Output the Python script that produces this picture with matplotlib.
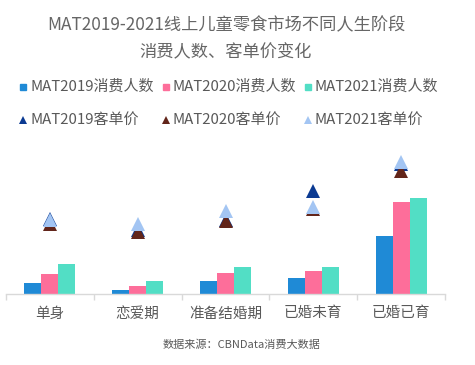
import matplotlib
matplotlib.use("Agg")
import matplotlib.pyplot as plt
from matplotlib.lines import Line2D
import numpy as np

plt.rcParams['font.family'] = ['Noto Sans CJK SC', 'DejaVu Sans']

categories = ['单身', '恋爱期', '准备结婚期', '已婚未育', '已婚已育']
users_2019 = [11, 3.7, 12.7, 15.7, 57.7]
users_2020 = [20, 7.7, 20.7, 23.3, 91.7]
users_2021 = [30, 13, 27, 27, 96.3]
price_2019 = [75, 64, 74, 103.5, 130]
price_2020 = [70, 62, 73, 85.5, 123]
price_2021 = [74, 70.5, 83, 87.5, 132.5]

bar_labels = ['MAT2019消费人数', 'MAT2020消费人数', 'MAT2021消费人数']
tri_labels = ['MAT2019客单价', 'MAT2020客单价', 'MAT2021客单价']
title = 'MAT2019-2021线上儿童零食市场不同人生阶段\n消费人数、客单价变化'
source = '数据来源：CBNData消费大数据'

bar_colors = ['#1f8ad6', '#fd6e9a', '#52dec5']
tri_colors = ['#0b3a92', '#62251a', '#a3c5f3']
text_color = '#595959'

W, H = 475, 365
fig = plt.figure(figsize=(W / 100, H / 100), dpi=100)
fig.patch.set_facecolor('white')

ax_bottom = 294
ax_top = 145
ax = fig.add_axes([6 / W, (H - ax_bottom) / H, (445 - 6) / W, (ax_bottom - ax_top) / H])

x = np.arange(len(categories))
bw = 0.194
for i, (vals, c) in enumerate(zip([users_2019, users_2020, users_2021], bar_colors)):
    ax.bar(x + (i - 1) * bw, vals, width=bw, color=c, zorder=2)

ax.set_xlim(-0.5, len(categories) - 0.5)
ax.set_ylim(0, ax_bottom - ax_top)

for s in ['top', 'right', 'left']:
    ax.spines[s].set_visible(False)
ax.spines['bottom'].set_color('#d9d9d9')
ax.spines['bottom'].set_linewidth(1.0)
ax.set_yticks([])
ax.set_xticks(x)
ax.set_xticklabels(categories, fontsize=10.5, color=text_color)
ax.tick_params(axis='x', which='major', length=0, pad=9)
ax.set_xticks(np.arange(-0.5, len(categories), 1.0), minor=True)
ax.tick_params(axis='x', which='minor', length=4, color='#d9d9d9', width=1)
ax.patch.set_alpha(0)

ax2 = ax.twinx()
ax2.set_ylim(0, ax_bottom - ax_top)
for s in ax2.spines.values():
    s.set_visible(False)
ax2.set_yticks([])
for vals, c in zip([price_2019, price_2020, price_2021], tri_colors):
    ax2.plot(x, vals, linestyle='none', marker='^', markersize=9.5,
             markeredgewidth=0, color=c, zorder=3)

fig.text(226 / W, 1 - 25 / H, title.split('\n')[0], ha='center', va='center',
         fontsize=12.4, color='#666666')
fig.text(226 / W, 1 - 52 / H, title.split('\n')[1], ha='center', va='center',
         fontsize=12.4, color='#666666')

# legend
col_x = [23, 166, 308]
row_y = [87, 120]
for j, (lab, c) in enumerate(zip(bar_labels, bar_colors)):
    fig.add_artist(Line2D([col_x[j] / W], [1 - row_y[0] / H], marker='s', markersize=5,
                          color=c, linestyle='none', transform=fig.transFigure))
    fig.text((col_x[j] + 7) / W, 1 - row_y[0] / H, lab, ha='left', va='center',
             fontsize=10.8, color=text_color)
for j, (lab, c) in enumerate(zip(tri_labels, tri_colors)):
    fig.add_artist(Line2D([col_x[j] / W], [1 - row_y[1] / H], marker='^', markersize=6,
                          markeredgewidth=0, color=c, linestyle='none',
                          transform=fig.transFigure))
    fig.text((col_x[j] + 7) / W, 1 - row_y[1] / H, lab, ha='left', va='center',
             fontsize=10.8, color=text_color)

fig.text(242 / W, 1 - 345 / H, source, ha='center', va='center', fontsize=8,
         color=text_color)

fig.savefig('out.png', dpi=100, facecolor='white')
